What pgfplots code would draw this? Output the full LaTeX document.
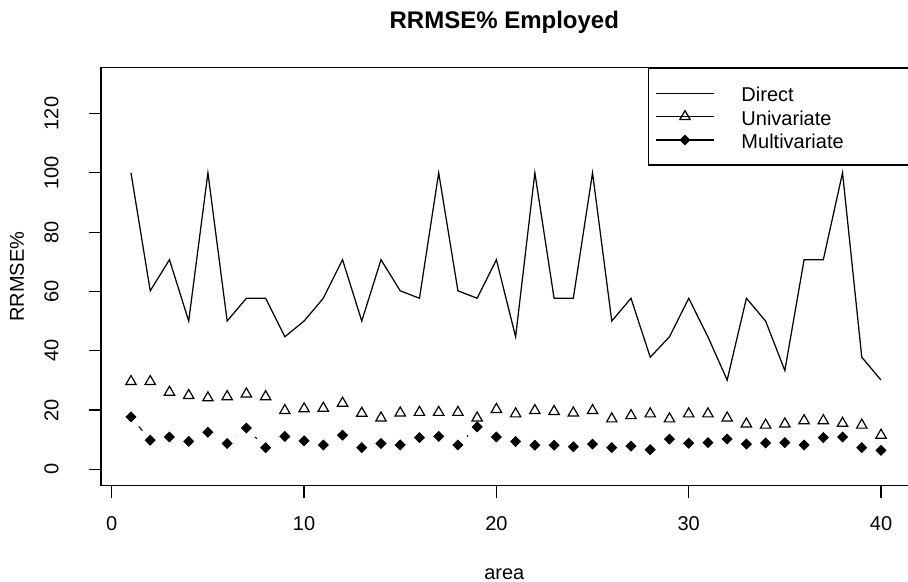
\documentclass[border=0pt]{standalone}
\usepackage{pgfplots}
\usepackage{pgfplotstable}
\pgfplotsset{compat=1.18}
\usepackage{fontspec}
\setmainfont{Liberation Sans}
\pgfplotstableread{
x d u m
1 100 29.6 17.7
2 60.2 29.6 9.8
3 70.7 26.0 10.9
4 50 24.9 9.4
5 100 24.1 12.5
6 50 24.5 8.7
7 57.7 25.4 13.9
8 57.7 24.5 7.3
9 44.7 19.8 11.1
10 50 20.4 9.6
11 57.7 20.6 8.2
12 70.7 22.3 11.5
13 50 18.9 7.3
14 70.7 17.3 8.7
15 60.2 19.0 8.2
16 57.7 19.2 10.7
17 100 19.2 11.1
18 60.2 19.2 8.2
19 57.7 17.3 14.3
20 70.7 20.2 10.9
21 44.7 18.7 9.4
22 100 19.8 8.1
23 57.7 19.5 8.1
24 57.7 19.0 7.6
25 100 19.8 8.5
26 50 17.0 7.3
27 57.7 18.1 7.8
28 37.8 18.7 6.6
29 44.7 17.0 10.2
30 57.7 18.7 8.8
31 44.7 18.7 9.0
32 30.1 17.3 10.2
33 57.7 15.3 8.5
34 50 14.9 8.9
35 33.3 15.3 9.0
36 70.7 16.4 8.2
37 70.7 16.4 10.7
38 100 15.5 10.9
39 37.8 14.9 7.3
40 30.1 11.5 6.4
}\data
\begin{document}
\begin{tikzpicture}
\path (-50.5pt,-48.2pt) rectangle (403.5pt,242.8pt);
\begin{scope}[overlay]
\begin{axis}[
  width=420pt, height=209pt, scale only axis,
  xmin=-0.56, xmax=43.12, ymin=-5.5, ymax=135.5,
  axis line style={line width=0.6pt},
  xtick={0,10,20,30,40}, ytick={0,20,40,60,80,100,120},
  tick align=outside, tick pos=left, major tick length=6.2pt,
  every tick/.style={black, line width=0.6pt},
  /pgf/number format/assume math mode=true,
  ticklabel style={font=\fontsize{10}{12}\selectfont, inner sep=0pt},
  xticklabel style={anchor=base, yshift=-16.35pt},
  yticklabel style={xshift=-15.15pt, rotate=90, anchor=base},
  title={RRMSE\% Employed},
  title style={at={(0.4801,1)}, anchor=base, yshift=13.65pt, inner sep=0pt, font=\bfseries\fontsize{12}{14}\selectfont},
  xlabel={area},
  xlabel style={at={(0.4801,0)}, anchor=base, yshift=-46.85pt, inner sep=0pt, font=\fontsize{10}{12}\selectfont},
  ylabel={RRMSE\%},
  ylabel style={at={(0,0.5)}, anchor=base, yshift=38.5pt, inner sep=0pt, font=\fontsize{10}{12}\selectfont},
  legend image code/.code={\draw[mark repeat=2,mark phase=2,#1] plot coordinates {(0pt,0pt) (14.425pt,0pt) (28.85pt,0pt)};},
  legend style={
    at={(0.6515,1)}, anchor=north west,
    draw=black, line width=0.6pt, fill=white,
    inner xsep=3.35pt, inner ysep=7.75pt,
    row sep=2.2pt, column sep=13.5pt,
    font=\fontsize{10}{12}\selectfont,
    nodes={inner sep=0pt, text height=9pt, text depth=0.5pt, text width=95pt, align=left},
  },
  legend cell align=left,
]
\addplot[black, line width=0.62pt, forget plot] table[x=x,y=d]{\data};
\addplot[black, line width=0.55pt, forget plot] table[x=x,y=u]{\data};
\addplot[white, only marks, mark=*, mark size=6pt, forget plot] table[x=x,y=u]{\data};
\addplot[black, line width=0.55pt, forget plot] table[x=x,y=m]{\data};
\addplot[white, only marks, mark=*, mark size=6pt, forget plot] table[x=x,y=m]{\data};
\addplot[black, only marks, mark=triangle, mark size=3pt, line width=0.6pt, forget plot] table[x=x,y=u]{\data};
\addplot[black, only marks, mark=square*, mark size=1.75pt, mark options={rotate=45}, forget plot] table[x=x,y=m]{\data};
\addlegendimage{black, line width=0.6pt}
\addlegendentry{Direct}
\addlegendimage{black, line width=0.6pt, mark=triangle, mark size=3pt}
\addlegendentry{Univariate}
\addlegendimage{black, line width=0.6pt, mark=square*, mark size=1.6pt, mark options={rotate=45}}
\addlegendentry{Multivariate}
\end{axis}
\end{scope}
\end{tikzpicture}
\end{document}
